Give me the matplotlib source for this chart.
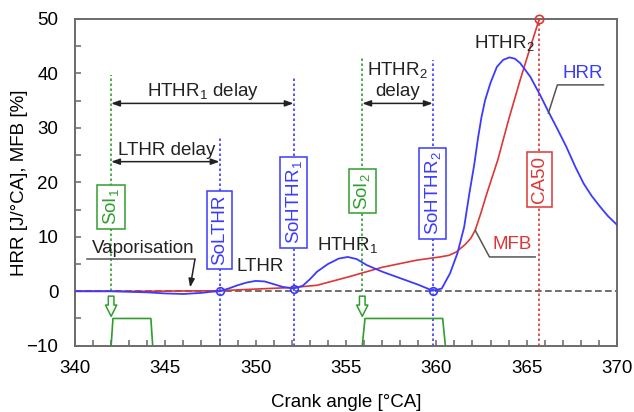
import matplotlib
matplotlib.use("Agg")
import matplotlib.pyplot as plt

plt.rcParams['font.family'] = ['Liberation Sans', 'DejaVu Sans']
plt.rcParams['mathtext.default'] = 'regular'

# heat release rate [J/°CA]
hrr_ca = [340, 342, 343, 344, 345, 346, 347, 347.5, 348, 348.5, 349, 349.5, 350, 350.5, 351,
          351.5, 352.1, 352.6, 353, 353.4, 354, 354.6, 355.1, 355.6, 356.15, 357, 358, 359,
          359.8, 360.3, 360.76, 361.17, 361.54, 361.83, 362.1, 362.3, 362.5, 362.7, 363.0,
          363.35, 363.7, 364.05, 364.35, 364.64, 365.2, 365.75, 366.2, 366.7, 367.2, 367.7,
          368.15, 368.6, 369.07, 369.5, 370]
hrr = [0, 0, -0.1, -0.2, -0.4, -0.5, -0.3, -0.1, 0, 0.5, 1.1, 1.6, 1.9, 1.8, 1.3,
       0.8, 0.5, 1.0, 2.2, 3.6, 5.0, 6.0, 6.3, 5.9, 4.8, 3.6, 2.4, 1.2,
       0.1, 0.5, 3.3, 7.0, 11.8, 18.0, 23.3, 28.0, 32.0, 35.1, 38.3,
       41.2, 42.5, 42.95, 42.7, 41.9, 39.4, 36.0, 33.0, 29.8, 26.5, 22.8,
       19.8, 17.5, 15.5, 13.8, 12.2]

# mass fraction burned [%]
mfb_ca = [340, 344, 346, 348, 350, 352.1, 353.4, 355.2, 357, 358.9, 360.2, 360.7, 361.1,
          361.6, 361.9, 362.15, 362.45, 362.8, 363.4, 364.0, 364.64, 365.2, 365.7]
mfb = [0, 0, 0.05, 0.1, 0.4, 0.7, 1.1, 2.7, 4.4, 5.7, 6.3, 6.6, 7.2,
       8.6, 9.7, 11.2, 14.2, 18.0, 24.1, 31.5, 38.8, 44.8, 50.0]

# injection command traces
inj1_ca = [342.0, 342.1, 344.2, 344.3]
inj2_ca = [355.9, 356.05, 360.35, 360.5]
inj_level = [-10, -5, -5, -10]

# events
soi_ca = [342.0, 355.9]
so_lthr_ca = 348.0
so_hthr_ca = [352.1, 359.8]
ca50_ca = 365.7

blue = '#3b3bff'
red = '#e03535'
green = '#2f9e2f'
dark = '#222222'
grey = '#555555'

fig = plt.figure(figsize=(6.34, 4.12), dpi=100)
ax = fig.add_axes([0.1183, 0.1609, 0.8549, 0.7930])

ax.axhline(0, color=grey, ls=(0, (4, 2)), lw=1.2, zorder=1)

# vertical event lines
dot = (0, (1.5, 1.5))
ax.plot([soi_ca[0]] * 2, [0, 39.7], color=green, ls=dot, lw=1.2, zorder=1)
ax.plot([soi_ca[1]] * 2, [0, 42.8], color=green, ls=dot, lw=1.2, zorder=1)
ax.plot([so_lthr_ca] * 2, [-10, 28.4], color=blue, ls=dot, lw=1.2, zorder=1)
ax.plot([so_hthr_ca[0]] * 2, [-10, 39.4], color=blue, ls=dot, lw=1.2, zorder=1)
ax.plot([so_hthr_ca[1]] * 2, [-10, 42.5], color=blue, ls=dot, lw=1.2, zorder=1)
ax.plot([ca50_ca] * 2, [-10, 50], color=red, ls=dot, lw=1.2, zorder=1)

# curves
ax.plot(mfb_ca, mfb, color=red, lw=1.2, zorder=3)
ax.plot(hrr_ca, hrr, color=blue, lw=1.3, zorder=4)
ax.plot(ca50_ca, 50, 'o', ms=6, mfc='none', mec=red, mew=1.2, clip_on=False, zorder=5)
ax.plot([so_lthr_ca] + so_hthr_ca, [0, 0.5, 0.1], 'o', ms=5.5, mfc='none', mec=blue,
        mew=1.2, zorder=5)

# injection traces and arrows
ax.plot(inj1_ca, inj_level, color=green, lw=1.2, zorder=2)
ax.plot(inj2_ca, inj_level, color=green, lw=1.2, zorder=2)
for x in soi_ca:
    ax.annotate('', xy=(x, -4.6), xytext=(x, -0.9),
                arrowprops=dict(arrowstyle='simple,head_width=0.9,head_length=0.9,tail_width=0.45',
                                fc='white', ec=green, lw=1.1, mutation_scale=9,
                                shrinkA=0, shrinkB=0))

# event boxes
fs = 13.5
def box(x, y, s, c):
    ax.text(x, y, s, rotation=90, ha='center', va='center', color=c, fontsize=fs, zorder=6,
            bbox=dict(boxstyle='square,pad=0.2', fc='white', ec=c, lw=1.1))

box(soi_ca[0], 15.5, 'SoI$_1$', green)
box(so_lthr_ca, 11.2, 'SoLTHR', blue)
box(so_hthr_ca[0], 16.3, 'SoHTHR$_1$', blue)
box(soi_ca[1], 18.4, 'SoI$_2$', green)
box(so_hthr_ca[1], 18.0, 'SoHTHR$_2$', blue)
box(ca50_ca, 20.5, 'CA50', red)

# delay arrows
darrow = dict(arrowstyle='<|-|>,head_length=0.5,head_width=0.18', color=dark, lw=1.1,
              mutation_scale=10, shrinkA=0, shrinkB=0)
ax.annotate('', xy=(soi_ca[0], 34.5), xytext=(so_hthr_ca[0], 34.5), arrowprops=darrow)
ax.annotate('', xy=(soi_ca[0], 23.8), xytext=(so_lthr_ca, 23.8), arrowprops=darrow)
ax.annotate('', xy=(soi_ca[1], 34.5), xytext=(so_hthr_ca[1], 34.5), arrowprops=darrow)
ax.text(347.1, 36.6, 'HTHR$_1$ delay', ha='center', va='center', fontsize=fs, color=dark)
ax.text(345.1, 25.9, 'LTHR delay', ha='center', va='center', fontsize=fs, color=dark)
ax.text(357.85, 40.6, 'HTHR$_2$', ha='center', va='center', fontsize=fs, color=dark)
ax.text(357.85, 36.6, 'delay', ha='center', va='center', fontsize=fs, color=dark)

# phase labels
ax.text(350.25, 4.5, 'LTHR', ha='center', va='center', fontsize=fs, color=dark)
ax.text(355.1, 8.5, 'HTHR$_1$', ha='center', va='center', fontsize=fs, color=dark)
ax.text(363.75, 45.5, 'HTHR$_2$', ha='center', va='center', fontsize=fs, color=dark)
ax.text(343.75, 7.9, 'Vaporisation', ha='center', va='center', fontsize=fs, color=dark)
ax.plot([340.68, 346.64], [5.86, 5.86], color=grey, lw=1.1)
ax.annotate('', xy=(346.37, 0.7), xytext=(346.64, 5.86),
            arrowprops=dict(arrowstyle='-|>,head_length=0.5,head_width=0.18', color=dark,
                            lw=1.1, mutation_scale=10, shrinkA=0, shrinkB=0))

# curve labels with leaders
ax.text(368.1, 40.0, 'HRR', ha='center', va='center', fontsize=fs, color=blue)
ax.plot([369.25, 366.7, 366.2], [37.9, 37.9, 32.7], color=grey, lw=1.1, zorder=5)
ax.text(364.2, 8.5, 'MFB', ha='center', va='center', fontsize=fs, color=red)
ax.plot([365.47, 362.94, 362.15], [6.3, 6.3, 11.2], color=grey, lw=1.1, zorder=5)

ax.set_xlim(340, 370)
ax.set_ylim(-10, 50)
ax.set_xticks(range(340, 371, 5))
ax.set_xticks(range(340, 371, 1), minor=True)
ax.set_yticks(range(-10, 51, 10))
ax.set_yticks(range(-10, 51, 5), minor=True)
ax.tick_params(which='both', direction='in', length=4, width=1.1, color='#666666',
               labelsize=fs)
ax.tick_params(axis='x', pad=10.5)
ax.tick_params(axis='y', pad=12)
for s in ax.spines.values():
    s.set_color('#6b6b6b')
    s.set_linewidth(1.4)

ax.set_xlabel('Crank angle [°CA]', fontsize=fs, labelpad=12)
ax.set_ylabel('HRR [J/°CA], MFB [%]', fontsize=fs, labelpad=-1)

fig.savefig('out.png', dpi=100)
